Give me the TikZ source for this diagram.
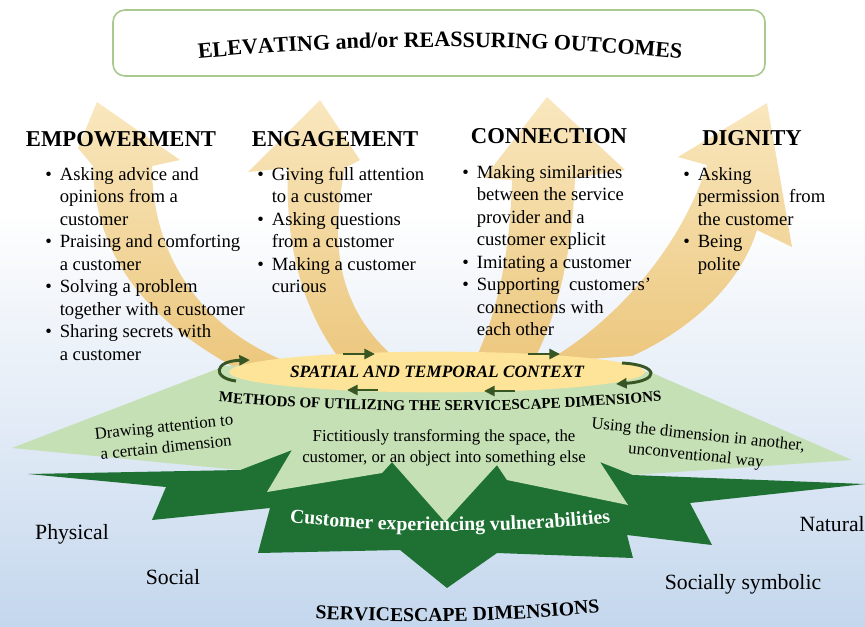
\documentclass[tikz,border=0pt]{standalone}
\usepackage{fontspec}
\setmainfont{Liberation Serif}
\usetikzlibrary{arrows.meta,shapes.geometric,decorations.text}

\definecolor{sandhi}{RGB}{249,231,190}
\definecolor{sandlo}{RGB}{236,199,126}
\definecolor{ctxfill}{RGB}{253,228,152}
\definecolor{palegreen}{RGB}{197,224,180}
\definecolor{deepgreen}{RGB}{30,113,51}
\definecolor{arrgreen}{RGB}{55,86,35}
\definecolor{boxline}{RGB}{168,202,142}
\definecolor{skyA}{RGB}{196,215,237}
\definecolor{skyB}{RGB}{226,235,246}
\definecolor{skyC}{RGB}{244,247,251}

\pgfdeclareverticalshading{frost}{100bp}{color(0bp)=(skyA); color(25bp)=(skyA); color(41bp)=(skyB); color(52bp)=(skyC); color(58bp)=(white); color(100bp)=(white)}

\begin{document}
\begin{tikzpicture}[x=0.75pt, y=-0.75pt,
  heading/.style={font=\fontsize{17}{20}\selectfont\bfseries, inner sep=0pt, anchor=base},
  items/.style={font=\fontsize{14}{16.9}\selectfont, inner sep=0pt, anchor=base west},
  method/.style={font=\fontsize{12.6}{15.5}\selectfont, align=center, inner sep=0pt},
  dimname/.style={font=\fontsize{16.3}{19}\selectfont, inner sep=0pt, anchor=base},
  sweep/.style={top color=sandhi, bottom color=sandlo},
  ringarrow/.style={arrgreen, line width=2.2pt, -{Triangle[length=8pt,width=7.5pt]}},
  arcword/.style={decorate, decoration={text along path, text align=center, text={#1}}}
]
\useasboundingbox (0,0) rectangle (865,626);
\shade[shading=frost] (0,0) rectangle (865,626);

% rising arrows
\shade[sweep] (97,102) -- (180,160) -- (152,166)
  .. controls (152,250) and (195,325) .. (287,362) -- (232,366)
  .. controls (150,320) and (95,260) .. (93,166) -- (78,148) -- cycle;
\shade[sweep] (320,100) -- (360,160) -- (345,168)
  .. controls (330,240) and (335,310) .. (400,362) -- (345,366)
  .. controls (300,310) and (285,240) .. (288,168) -- (248,172) -- cycle;
\shade[sweep] (547,97) -- (625,170) -- (575,178)
  .. controls (572,260) and (555,320) .. (533,362) -- (473,364)
  .. controls (495,320) and (510,260) .. (512,180) -- (484,178) -- cycle;
\shade[sweep] (767,103) -- (792,247) -- (757,230)
  .. controls (740,285) and (690,330) .. (632,356) -- (545,362)
  .. controls (595,335) and (675,265) .. (707,165) -- (678,157) -- cycle;

% the two stars
\fill[deepgreen] (28,474) -- (240,470) -- (300,430) -- (600,430) -- (633,475) -- (865,484)
  -- (690,503) -- (712,545) -- (627,535) -- (633,558) -- (497,553) -- (447,588)
  -- (400,550) -- (258,553) -- (270,508) -- (152,520) -- (166,487) -- cycle;
\fill[palegreen] (12,448) -- (225,366) -- (440,358) -- (650,372) -- (852,460) -- (633,475)
  -- (600,462) -- (628,505) -- (507,480) -- (497,465) -- (445,522) -- (392,462)
  -- (382,473) -- (267,492) -- (292,450) -- (240,470) -- cycle;

\node[ellipse, fill=ctxfill, minimum width=291pt, minimum height=30.5pt, inner sep=0pt,
  font=\fontsize{13}{15}\selectfont\bfseries\itshape] (ctx) at (437,372) {SPATIAL AND TEMPORAL CONTEXT};

\coordinate (ta) at (343,354); \coordinate (tb) at (375,354);
\coordinate (tc) at (528,354); \coordinate (td) at (560,354);
\coordinate (ba) at (378,390); \coordinate (bb) at (347,390);
\coordinate (bc) at (515,391); \coordinate (bd) at (484,391);
\coordinate (la) at (236,381); \coordinate (lb) at (250,360);
\coordinate (ra) at (622,363); \coordinate (rb) at (616,384);
\draw[ringarrow] (ta) -- (tb);
\draw[ringarrow] (tc) -- (td);
\draw[ringarrow] (ba) -- (bb);
\draw[ringarrow] (bc) -- (bd);
\draw[ringarrow] (la) .. controls (212,378) and (214,361) .. (lb);
\draw[ringarrow] (ra) .. controls (660,365) and (660,381) .. (rb);

% outcomes
\node[draw=boxline, line width=1.2pt, rounded corners=9pt, minimum width=489pt,
  minimum height=49.5pt] (outcome) at (439,43) {};
\path[arcword={|\fontsize{16.5}{20}\selectfont\bfseries|ELEVATING and/or REASSURING OUTCOMES}]
  (175,61) .. controls (352,42.3) and (528,42.3) .. (705,61);

\node[heading] (emp) at (121,146) {EMPOWERMENT};
\node[heading] (eng) at (335,146) {ENGAGEMENT};
\node[heading] (con) at (549,143) {CONNECTION};
\node[heading] (dig) at (752,145) {DIGNITY};

\node[items] (empl) at (45,180) {\begin{tabular}[t]{@{}l@{\hspace{6pt}}l@{}}
  \textbullet & Asking advice and\\ & opinions from a\\ & customer\\
  \textbullet & Praising and comforting\\ & a customer\\
  \textbullet & Solving a problem\\ & together with a customer\\
  \textbullet & Sharing secrets with\\ & a customer\end{tabular}};
\node[items] (engl) at (257,180) {\begin{tabular}[t]{@{}l@{\hspace{6pt}}l@{}}
  \textbullet & Giving full attention\\ & to a customer\\
  \textbullet & Asking questions\\ & from a customer\\
  \textbullet & Making a customer\\ & curious\end{tabular}};
\node[items] (conl) at (462,178) {\begin{tabular}[t]{@{}l@{\hspace{6pt}}l@{}}
  \textbullet & Making similarities\\ & between the service\\ & provider and a\\ & customer explicit\\
  \textbullet & Imitating a customer\\
  \textbullet & Supporting~ customers’\\ & connections with\\ & each other\end{tabular}};
\node[items] (digl) at (683,180) {\begin{tabular}[t]{@{}l@{\hspace{6pt}}l@{}}
  \textbullet & Asking\\ & permission~ from\\ & the customer\\
  \textbullet & Being\\ & polite\end{tabular}};

% methods
\path[arcword={|\fontsize{11.3}{13}\selectfont\bfseries|METHODS OF UTILIZING THE SERVICESCAPE DIMENSIONS}]
  (186,399) .. controls (355,415) and (525,415) .. (694,398);
\node[method, rotate=6] (mdraw) at (165,437) {Drawing attention to\\a certain dimension};
\node[method] (mfict) at (444,448) {Fictitiously transforming the space, the\\customer, or an object into something else};
\node[method, rotate=-6] (muse) at (697,446) {Using the dimension in another,\\unconventional way};
\path[arcword={|\fontsize{14.8}{17}\selectfont\bfseries\color{white}|Customer experiencing vulnerabilities}]
  (260,519) .. controls (387,535) and (513,535) .. (640,519);

% dimensions
\node[dimname] (phys) at (72,539) {Physical};
\node[dimname] (soc) at (173,584) {Social};
\node[dimname, anchor=base east] (nat) at (865,531) {Natural};
\node[dimname] (symb) at (743,589) {Socially symbolic};
\path[arcword={|\fontsize{14.8}{17}\selectfont\bfseries|SERVICESCAPE DIMENSIONS}]
  (290,617) .. controls (400,624) and (510,623) .. (625,610);
\end{tikzpicture}
\end{document}
